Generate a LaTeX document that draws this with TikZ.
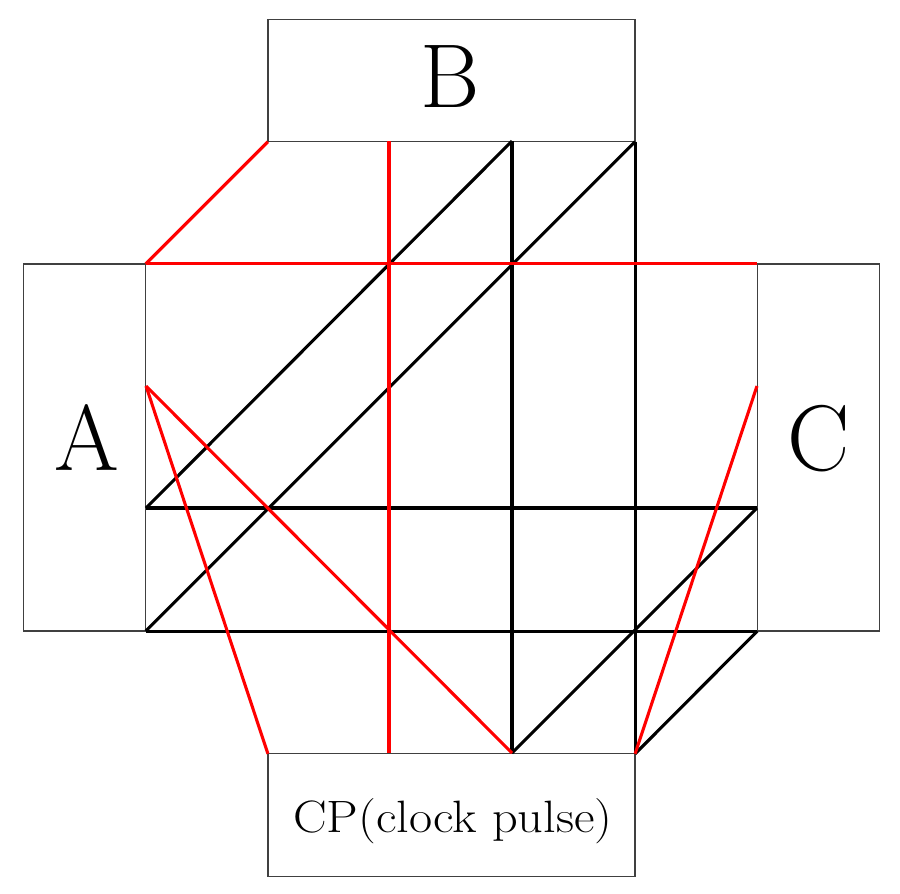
\documentclass[tikz,border=0pt]{standalone}
\usepackage{fontspec}
\usetikzlibrary{positioning}

\begin{document}
\begin{tikzpicture}[x=0.75pt,y=-0.75pt,
    block/.style={
    draw=black!75,line width=1pt,
    inner sep=0pt,outer sep=0pt,
    font=\fontsize{68}{68}\selectfont},
    widebox/.style={block,minimum width=275.4pt,minimum height=91.8pt},
    tallbox/.style={block,minimum width=91.8pt,minimum height=275.4pt,font=\fontsize{70}{70}\selectfont},
    redline/.style={draw=red,line width=2.3pt},
    blackline/.style={draw=black,line width=2.3pt}]
    \useasboundingbox (0,0) rectangle (900,893);
    \node (B) [widebox] at (451.5,80.5) {\raisebox{-20.6pt}[0pt][0pt]{\hspace{-2pt}B}};
    \node (A) [tallbox] at (84.5,447.5) {\raisebox{-17.6pt}[0pt][0pt]{\hspace{4pt}A}};
    \node (C) [tallbox] at (818.5,447.5) {\raisebox{-17.6pt}[0pt][0pt]{C}};
    \node (CP) [widebox,font=\fontsize{34}{34}\selectfont] at (451.5,815) {\hspace{2pt}\raisebox{-12.8pt}[0pt][0pt]{\scalebox{1.11}[1]{CP(clock\ pulse)}}};
    % top edge
    \coordinate (b1) at (B.south west);
    \coordinate (b2) at (389,141);
    \coordinate (b3) at (512,141);
    \coordinate (b4) at (B.south east);
    % left edge
    \coordinate (a1) at (A.north east);
    \coordinate (a2) at (146,386);
    \coordinate (a3) at (146,508);
    \coordinate (a4) at (A.south east);
    % right edge
    \coordinate (c1) at (C.north west);
    \coordinate (c2) at (757,386);
    \coordinate (c3) at (757,508);
    \coordinate (c4) at (C.south west);
    % bottom edge
    \coordinate (p1) at (CP.north west);
    \coordinate (p2) at (389,753);
    \coordinate (p3) at (512,753);
    \coordinate (p4) at (CP.north east);
    % black
    \draw[blackline] (a3) -- (b3);
    \draw[blackline] (a4) -- (b4);
    \draw[blackline] (b3) -- (p3);
    \draw[blackline] (b4) -- (p4);
    \draw[blackline] (a3) -- (c3);
    \draw[blackline] (a4) -- (c4);
    \draw[blackline] (p3) -- (c3);
    \draw[blackline] (p4) -- (c4);
    % red
    \draw[redline] (a1) -- (b1);
    \draw[redline] (a1) -- (c1);
    \draw[redline] (b2) -- (p2);
    \draw[redline] (a2) -- (p3);
    \draw[redline] (a2) -- (p1);
    \draw[redline] (c2) -- (p4);
\end{tikzpicture}
\end{document}
